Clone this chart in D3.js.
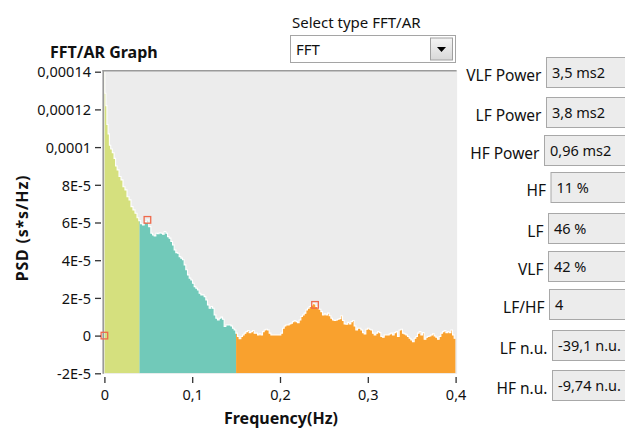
<!DOCTYPE html>
<html><head><meta charset="utf-8">
<script src="https://cdn.jsdelivr.net/npm/d3@7"></script>
<style>
html,body{margin:0;padding:0;background:#fff;}
svg{display:block;}
text{font-family:"Noto Sans","Open Sans",sans-serif;fill:#111;}
</style></head>
<body><svg id="c" width="625" height="429"></svg>
<script>
// ---- data ----
const freqHz = [
0,0.0011,0.0023,0.0034,0.0050,0.0064,0.0080,0.0100,0.0120,0.0135,
0.0155,0.0178,0.0200,0.0223,0.0246,0.0269,0.0292,0.0314,0.0337,0.0360,
0.0383,0.0400,0.0425,0.0443,0.0462,0.0482,0.0490,0.0519,0.0539,0.0557,
0.0576,0.0596,0.0614,0.0633,0.0653,0.0671,0.0690,0.0710,0.0728,0.0747,
0.0767,0.0785,0.0804,0.0823,0.0842,0.0861,0.0880,0.0899,0.0918,0.0937,
0.0956,0.0975,0.0994,0.1013,0.1032,0.1051,0.1069,0.1089,0.1108,0.1126,
0.1146,0.1165,0.1183,0.1203,0.1222,0.1240,0.1260,0.1279,0.1297,0.1317,
0.1336,0.1354,0.1374,0.1393,0.1411,0.1431,0.1450,0.1468,0.1487,0.1507,
0.1525,0.1544,0.1564,0.1582,0.1601,0.1621,0.1639,0.1658,0.1678,0.1696,
0.1715,0.1735,0.1753,0.1772,0.1792,0.1810,0.1829,0.1849,0.1867,0.1886,
0.1906,0.1924,0.1943,0.1962,0.1981,0.2000,0.2019,0.2038,0.2057,0.2076,
0.2095,0.2114,0.2133,0.2151,0.2171,0.2190,0.2208,0.2228,0.2247,0.2265,
0.2285,0.2304,0.2322,0.2342,0.2361,0.2379,0.2399,0.2418,0.2436,0.2456,
0.2475,0.2493,0.2513,0.2532,0.2550,0.2570,0.2589,0.2607,0.2626,0.2646,
0.2664,0.2683,0.2703,0.2721,0.2740,0.2760,0.2778,0.2797,0.2817,0.2835,
0.2854,0.2874,0.2892,0.2911,0.2931,0.2949,0.2968,0.2987,0.3006,0.3025,
0.3044,0.3063,0.3082,0.3101,0.3120,0.3139,0.3158,0.3177,0.3196,0.3215,
0.3234,0.3253,0.3272,0.3290,0.3310,0.3329,0.3347,0.3367,0.3386,0.3404,
0.3424,0.3443,0.3461,0.3481,0.3500,0.3518,0.3538,0.3557,0.3575,0.3595,
0.3614,0.3632,0.3652,0.3671,0.3689,0.3708,0.3728,0.3746,0.3765,0.3785,
0.3803,0.3822,0.3842,0.3860,0.3879,0.3899,0.3917,0.3936,0.3956,0.3974,
0.3993,0.4000];
// PSD in units of 1E-5 s*s/Hz
const psdE5 = [
14.3,12.86,12.2,11.2,10.7,10.1,9.9,9.7,9.4,9.0,
8.79,8.44,8.26,7.9,7.73,7.37,7.2,6.84,6.67,6.49,
6.25,6.1,5.93,5.87,6.05,6.0,6.14,5.78,5.43,5.34,
5.29,5.43,5.4,5.46,5.43,5.38,5.52,5.43,5.25,5.17,
4.99,4.81,4.55,4.40,4.37,4.19,4.11,4.02,3.75,3.49,
3.22,3.05,2.95,2.78,2.6,2.51,2.42,2.25,2.16,2.16,
2.07,1.89,1.63,1.45,1.54,1.45,1.10,0.92,0.83,0.92,
0.98,0.87,0.48,0.57,0.57,0.57,0.51,0.39,0.3,0.13,
-0.05,-0.17,-0.05,0.04,0.13,0.21,0.27,0.16,0.21,0.27,
0.13,0.13,0.04,0.09,0.04,0.21,0.30,0.34,0.30,0.13,
0.04,0.04,0.04,0.04,0.04,0.04,0.13,0.39,0.51,0.57,
0.57,0.62,0.66,0.74,0.80,0.74,0.69,0.83,1.01,1.10,
1.19,1.36,1.45,1.54,1.63,1.72,1.68,1.54,1.45,1.40,
1.27,1.10,1.15,1.10,1.19,1.05,0.92,0.83,0.80,0.83,
0.87,0.90,1.05,0.8,0.62,0.6,0.7,0.62,0.74,0.80,
0.51,0.30,0.39,0.39,0.30,0.16,0.09,0.34,0.39,0.34,
0.30,0.13,0.04,0.13,0.21,0.16,-0.05,-0.09,0.04,0.04,
0.04,0.09,0.13,0.04,0.16,0.21,-0.05,0.30,0.34,0.13,
0.09,0.04,-0.05,-0.14,-0.23,-0.32,-0.14,-0.05,0.13,0.21,
0.04,0.16,-0.19,-0.09,-0.05,-0.02,0.04,0.09,-0.02,-0.09,
-0.19,-0.05,0.13,0.21,0.27,0.16,0.21,0.16,0.30,0.04,
-0.14,-0.14];

const bandNames  = ["VLF","LF","HF"];
const bandStart  = [0, 0.04, 0.15];
const bandEnd    = [0.04, 0.15, 0.4];
const bandColors = ["#d5e07e","#71c9b9","#f9a12e"];

const markerF   = [0, 0.049, 0.2399];
const markerE5  = [0, 6.14, 1.63];

const yTicks      = [14e-5,12e-5,10e-5,8e-5,6e-5,4e-5,2e-5,0,-2e-5];
const yTickLabels = ["0,00014","0,00012","0,0001","8E-5","6E-5","4E-5","2E-5","0","-2E-5"];
const xTicks      = [0,0.1,0.2,0.3,0.4];
const xTickLabels = ["0","0,1","0,2","0,3","0,4"];

const fieldLabels = ["VLF Power","LF Power","HF Power","HF","LF","VLF","LF/HF","LF n.u.","HF n.u."];
const fieldValues = ["3,5 ms2","3,8 ms2","0,96 ms2","11 %","46 %","42 %","4","-39,1 n.u.","-9,74 n.u."];

const selectLabel = "Select type FFT/AR";
const selectValue = "FFT";

// ---- layout ----
const svg = d3.select("#c");
const L = 104.4, R = 455.6, T = 71.7, B = 373.3;
const x = d3.scaleLinear().domain([0,0.4]).range([L,R]);
const y = d3.scaleLinear().domain([-2e-5,14e-5]).range([B,T]);

const data = freqHz.map((f,i)=>({f, v: psdE5[i]*1e-5}));

// plot background
svg.append("rect").attr("x",103).attr("y",70.5).attr("width",R-103+1.5).attr("height",B-70.5+0.5).attr("fill","#ececec");

const defs = svg.append("defs");
defs.append("clipPath").attr("id","plotClip").append("rect")
  .attr("x",L-1).attr("y",T).attr("width",R-L+2).attr("height",B-T);
bandNames.forEach((b,i)=>{
  defs.append("clipPath").attr("id","clip"+b).append("rect")
    .attr("x",x(bandStart[i])).attr("y",T).attr("width",x(bandEnd[i])-x(bandStart[i])).attr("height",B-T);
});
const area = d3.area().x(d=>x(d.f)).y0(B).y1(d=>y(d.v)).curve(d3.curveStep);
bandNames.forEach((b,i)=>{
  svg.append("path").datum(data).attr("d",area).attr("fill",bandColors[i]).attr("clip-path","url(#clip"+b+")");
});
const line = d3.line().x(d=>x(d.f)).y(d=>y(d.v)).curve(d3.curveStep);
svg.append("path").datum(data).attr("d",line).attr("fill","none").attr("stroke","#ffffff").attr("stroke-width",1.1)
  .attr("clip-path","url(#plotClip)");

// frame (sunken look: top & left)
svg.append("line").attr("x1",102.5).attr("x2",R+1).attr("y1",70.7).attr("y2",70.7).attr("stroke","#9a9a9a").attr("stroke-width",1.6);
svg.append("line").attr("x1",103.2).attr("x2",103.2).attr("y1",70).attr("y2",B+0.5).attr("stroke","#9a9a9a").attr("stroke-width",1.6);

// markers
svg.selectAll("rect.mk").data(markerF).enter().append("rect").attr("class","mk")
  .attr("x",(d)=>x(d)-3.3).attr("y",(d,i)=>y(markerE5[i]*1e-5)-3.3)
  .attr("width",6.6).attr("height",6.6).attr("fill","none").attr("stroke","#ef6a4c").attr("stroke-width",1.3);

// axes
const yAxis = d3.axisLeft(y).tickValues(yTicks).tickFormat((d,i)=>yTickLabels[i]).tickSize(6).tickPadding(4);
const gy = svg.append("g").attr("transform","translate(101,0)").call(yAxis);
gy.select(".domain").remove();
gy.selectAll("line").attr("stroke","#333").attr("stroke-width",1.3);
gy.selectAll("text").style("font-family","'Noto Sans',sans-serif").style("font-size","14.5px").attr("fill","#111").attr("dy","0.36em");

const xAxis = d3.axisBottom(x).tickValues(xTicks).tickFormat((d,i)=>xTickLabels[i]).tickSize(6).tickPadding(7);
const gx = svg.append("g").attr("transform","translate(0,377)").call(xAxis);
gx.select(".domain").remove();
gx.selectAll("line").attr("stroke","#333").attr("stroke-width",1.3);
gx.selectAll("text").style("font-family","'Noto Sans',sans-serif").style("font-size","14.5px").attr("fill","#111");

// titles
svg.append("text").attr("x",50).attr("y",58).style("font-weight","bold").style("font-size","16px").text("FFT/AR Graph");
svg.append("text").attr("x",(L+R)/2+1).attr("y",424).attr("text-anchor","middle").style("font-weight","bold").style("font-size","16px").text("Frequency(Hz)");
svg.append("text").attr("transform","translate(28,228) rotate(-90)").attr("text-anchor","middle")
  .style("font-weight","bold").style("font-size","16px").style("letter-spacing","0.8px").text("PSD (s*s/Hz)");

// select control
svg.append("text").attr("x",292).attr("y",28).style("font-size","15px").text(selectLabel);
svg.append("rect").attr("x",290.5).attr("y",35.5).attr("width",165).attr("height",27).attr("fill","#fff").attr("stroke","#a5a5a5");
svg.append("text").attr("x",296).attr("y",55).style("font-size","15px").text(selectValue);
const grad = defs.append("linearGradient").attr("id","btn").attr("x1",0).attr("x2",0).attr("y1",0).attr("y2",1);
grad.append("stop").attr("offset","0%").attr("stop-color","#f4f4f4");
grad.append("stop").attr("offset","100%").attr("stop-color","#d8d8d8");
svg.append("rect").attr("x",430.5).attr("y",38).attr("width",22).attr("height",22).attr("fill","url(#btn)").attr("stroke","#a0a0a0");
svg.append("path").attr("d","M437,47 L446,47 L441.5,52 Z").attr("fill","#000");

// right fields
const boxLeft = [546,546,544,550.5,548,548,549,552,552];
const boxTop  = [57,97,135,172,213,251,289,330,370];
fieldLabels.forEach((lab,i)=>{
  svg.append("rect").attr("x",boxLeft[i]+0.5).attr("y",boxTop[i]+0.5).attr("width",100).attr("height",30)
    .attr("fill","#ececec").attr("stroke","#a8a8a8");
  svg.append("text").attr("x",boxLeft[i]-4.5).attr("y",boxTop[i]+23.5).attr("text-anchor","end")
    .style("font-size","15.5px").text(lab);
  svg.append("text").attr("x",boxLeft[i]+6).attr("y",boxTop[i]+21).style("font-size","14.5px").text(fieldValues[i]);
});
</script>
</body></html>
